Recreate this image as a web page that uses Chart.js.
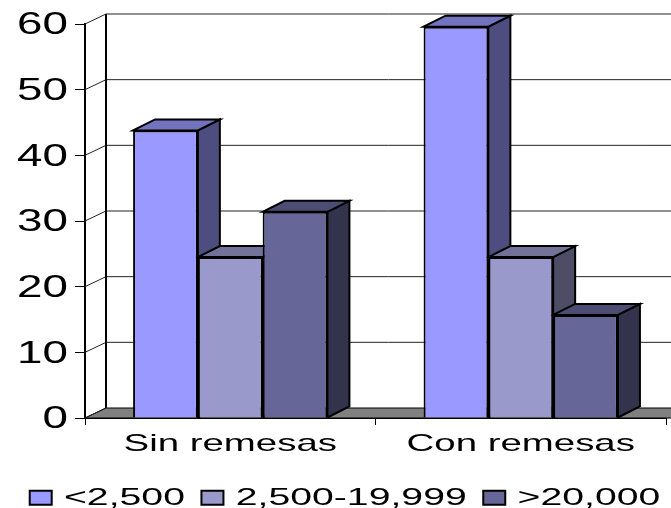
<!DOCTYPE html>
<html><head><meta charset="utf-8">
<style>html,body{margin:0;padding:0;background:#fff}canvas{display:block}</style>
<script src="https://cdn.jsdelivr.net/npm/chart.js@4"></script>
</head><body><canvas id="c" width="671" height="508"></canvas>
<script>
const categories = ["Sin remesas", "Con remesas"];
const low = [43.8, 59.6];
const middle = [24.5, 24.5];
const high = [31.4, 15.7];
const seriesNames = ["<2,500", "2,500-19,999", ">20,000"];
const frontColors = ["#9999FF", "#9999CC", "#666699"];
const topColors = ["#7373BF", "#737399", "#4D4D73"];
const sideColors = ["#4D4D80", "#4D4D66", "#33334D"];
const yTicks = [0, 10, 20, 30, 40, 50, 60];
const DX = 21, DY = 10, BAR_DX = 22, BAR_DY = 11;

const canvas = document.getElementById('c');
const ctx = canvas.getContext('2d');
// the reference's text is stretched horizontally
const stretch = f => f.includes('32px') ? 1.43 : 1.6;
const rawFill = ctx.fillText.bind(ctx), rawMeasure = ctx.measureText.bind(ctx);
ctx.fillText = function (t, x, y) {
  ctx.save(); ctx.translate(x, y + (ctx.font.includes('32px') ? 1.5 : 0)); ctx.scale(stretch(ctx.font), 1);
  rawFill(t, 0, 0); ctx.restore();
};
ctx.measureText = function (t) {
  const m = rawMeasure(t), k = stretch(ctx.font);
  return { width: m.width * k, actualBoundingBoxAscent: m.actualBoundingBoxAscent, actualBoundingBoxDescent: m.actualBoundingBoxDescent };
};
function poly(c, pts, fill) {
  c.beginPath();
  pts.forEach((p, i) => i ? c.lineTo(p[0], p[1]) : c.moveTo(p[0], p[1]));
  c.closePath();
  c.fillStyle = fill; c.fill(); c.stroke();
}
const walls = {
  id: 'walls',
  beforeDatasetsDraw(chart) {
    const c = chart.ctx, a = chart.chartArea, y = chart.scales.y, W = chart.width;
    c.save();
    c.strokeStyle = '#000'; c.lineWidth = 1;
    const base = y.getPixelForValue(0);
    poly(c, [[a.left, base], [a.left + DX, base - DY], [W + 5, base - DY], [W + 5, base]], '#808080');
    c.strokeStyle = '#222';
    y.ticks.forEach(t => {
      const p = y.getPixelForValue(t.value);
      c.beginPath(); c.moveTo(a.left, p); c.lineTo(a.left + DX, p - DY);
      if (t.value !== 0) c.lineTo(W, p - DY);
      c.stroke();
    });
    c.strokeStyle = '#000'; c.lineWidth = 2;
    c.beginPath(); c.moveTo(a.left + DX, y.getPixelForValue(60) - DY); c.lineTo(a.left + DX, base - DY); c.stroke();
    // depth faces left to right; the library then paints the front faces over them
    c.lineJoin = 'miter';
    const metas = chart.getSortedVisibleDatasetMetas();
    categories.forEach((_, n) => metas.forEach(m => {
      const b = m.data[n], i = m.index;
      const l = b.x - b.width / 2, r = b.x + b.width / 2, t = b.y, bt = b.base;
      poly(c, [[r, bt], [r + BAR_DX, bt - BAR_DY], [r + BAR_DX, t - BAR_DY], [r, t]], sideColors[i]);
      poly(c, [[l, t], [l + BAR_DX, t - BAR_DY], [r + BAR_DX, t - BAR_DY], [r, t]], topColors[i]);
    }));
    c.restore();
  },
  afterLayout(chart) {
    const l = chart.legend;
    l.left += 12; l.right += 12; l.top += 12; l.bottom += 12;
  }
};
const mk = (label, data, i) => ({
  label, data,
  backgroundColor: frontColors[i], borderColor: '#000', borderWidth: 2,
  categoryPercentage: 0.669, barPercentage: 1
});
new Chart(ctx, {
  type: 'bar',
  data: {
    labels: categories,
    datasets: [mk(seriesNames[0], low, 0), mk(seriesNames[1], middle, 1), mk(seriesNames[2], high, 2)]
  },
  plugins: [walls],
  options: {
    responsive: false, animation: false,
    layout: { padding: { top: 24, right: 5, left: 0, bottom: 0 } },
    plugins: {
      tooltip: { enabled: false },
      legend: {
        position: 'bottom',
        labels: {
          boxWidth: 22, boxHeight: 14, padding: 16.5, color: '#000',
          font: { family: '"Liberation Sans"', size: 24.5 }
        }
      }
    },
    scales: {
      x: {
        afterFit(s) { s.height = 39; },
        grid: { drawOnChartArea: false, color: '#000', tickLength: 7, tickWidth: 1 },
        border: { color: '#000', width: 2 },
        ticks: { color: '#000', padding: 5, maxRotation: 0, autoSkip: false, font: { family: '"Liberation Sans"', size: 24 } }
      },
      y: {
        min: 0, max: 60,
        afterFit(s) { s.width = 85; s.paddingTop = 0; s.paddingBottom = 0; },
        afterBuildTicks(s) { s.ticks = yTicks.map(v => ({ value: v })); },
        grid: { drawOnChartArea: false, color: '#000', tickLength: 10, tickWidth: 1 },
        border: { color: '#000', width: 2 },
        ticks: { color: '#000', padding: 7, font: { family: '"Liberation Sans"', size: 32 } }
      }
    }
  }
});
</script></body></html>
